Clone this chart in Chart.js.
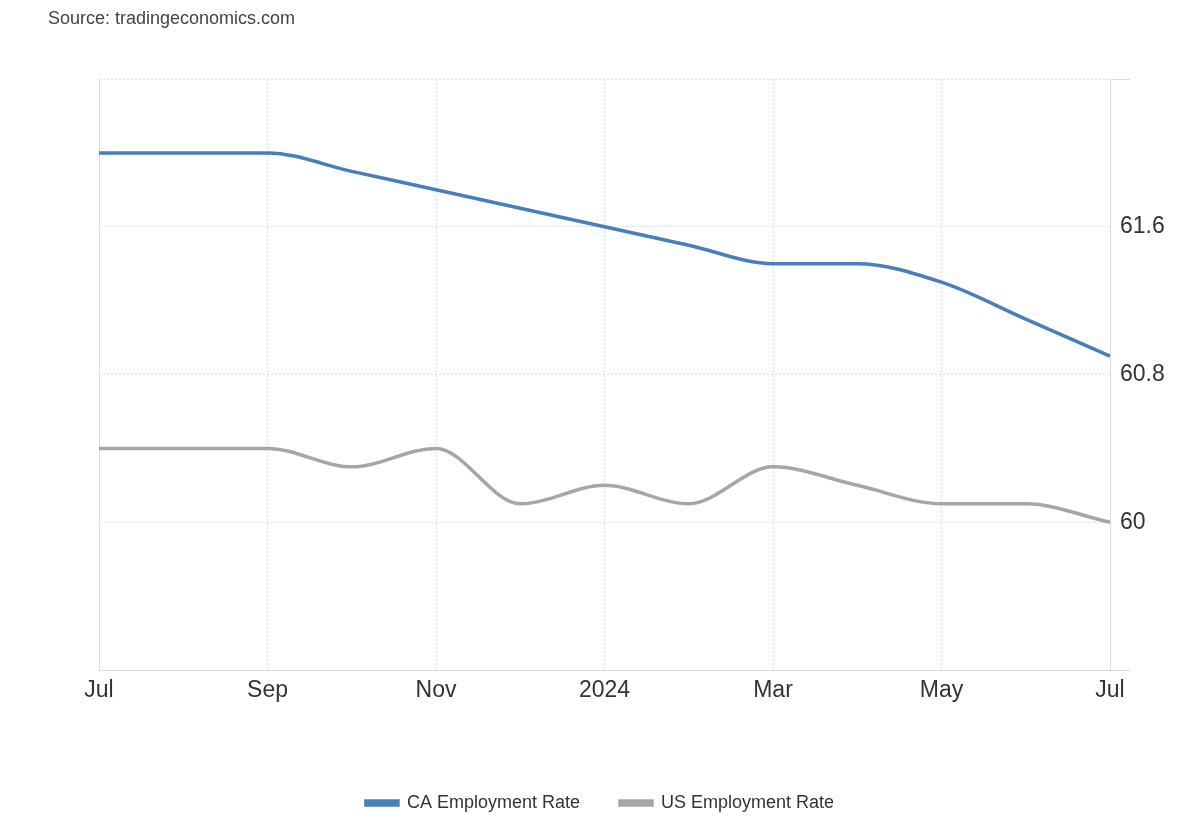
<!DOCTYPE html>
<html>
<head>
<meta charset="utf-8">
<script src="https://cdn.jsdelivr.net/npm/chart.js@4/dist/chart.umd.min.js"></script>
<style>
  html, body { margin: 0; padding: 0; background: #fff; }
  #wrap { position: relative; width: 1200px; height: 820px; }
  #src { position: absolute; left: 48px; top: 8px; font: 18px "Liberation Sans", Arial, sans-serif; color: #444; }
  canvas { position: absolute; left: 0; top: 0; }
</style>
</head>
<body>
<div id="wrap">
  <canvas id="c" width="1200" height="820"></canvas>
  <div id="src">Source: tradingeconomics.com</div>
</div>
<script>
const months = ['Jul','Aug','Sep','Oct','Nov','Dec','2024','Feb','Mar','Apr','May','Jun','Jul'];
const caEmployment = [62.0, 62.0, 62.0, 61.9, 61.8, 61.7, 61.6, 61.5, 61.4, 61.4, 61.3, 61.1, 60.9];
const usEmployment = [60.4, 60.4, 60.4, 60.3, 60.4, 60.1, 60.2, 60.1, 60.3, 60.2, 60.1, 60.1, 60.0];
const yTickValues = [59.2, 60, 60.8, 61.6, 62.4];
const yTickLabels = ['', '60', '60.8', '61.6', ''];

const FONT = '"Liberation Sans", Arial, sans-serif';
const GRID = '#dddddd';

new Chart(document.getElementById('c'), {
  type: 'line',
  data: {
    labels: months,
    datasets: [
      { label: 'CA Employment Rate', data: caEmployment, borderColor: '#4a7ebb', backgroundColor: '#4a7ebb',
        borderWidth: 3.5, pointRadius: 0, cubicInterpolationMode: 'monotone', yAxisID: 'y' },
      { label: 'US Employment Rate', data: usEmployment, borderColor: '#a6a6a6', backgroundColor: '#a6a6a6',
        borderWidth: 3.5, pointRadius: 0, cubicInterpolationMode: 'monotone', yAxisID: 'y' }
    ]
  },
  options: {
    responsive: false,
    animation: false,
    devicePixelRatio: 1,
    layout: { padding: { top: 79, left: 0, right: 0, bottom: -2 } },
    plugins: {
      legend: {
        position: 'bottom',
        labels: { boxWidth: 32, boxHeight: 4, padding: 40, color: '#333', font: { family: FONT, size: 18 } }
      },
      tooltip: { enabled: false }
    },
    scales: {
      x: {
        offset: false,
        grid: { color: GRID, lineWidth: 1, drawTicks: false },
        border: { display: true, color: GRID, width: 1, dash: [2, 2] },
        ticks: {
          autoSkip: false, maxRotation: 0, padding: 7, color: '#333', font: { family: FONT, size: 23 },
          callback: function(v, i) { return i % 2 === 0 ? months[i] : null; }
        },
        afterFit: function(s) { s.height = 84; }
      },
      y: {
        position: 'right',
        min: 59.2, max: 62.4,
        afterBuildTicks: function(s) { s.ticks = yTickValues.map(v => ({ value: v })); },
        grid: {
          color: GRID, lineWidth: 1, tickLength: 20,
          tickColor: function(ctx) { const v = ctx.tick ? ctx.tick.value : 0; return (v === 59.2 || v === 62.4) ? GRID : 'rgba(0,0,0,0)'; }
        },
        border: { display: true, color: GRID, width: 1, dash: [2, 2] },
        ticks: {
          padding: -10, color: '#333', font: { family: FONT, size: 23 },
          callback: function(v, i) { return yTickLabels[i]; }
        },
        afterFit: function(s) { s.width = 90; }
      },
      yLeft: {
        position: 'left',
        display: true,
        grid: { display: false, drawTicks: false },
        ticks: { display: false },
        border: { display: true, color: GRID, width: 1 },
        afterFit: function(s) { s.width = 99; }
      }
    }
  }
});
</script>
</body>
</html>
